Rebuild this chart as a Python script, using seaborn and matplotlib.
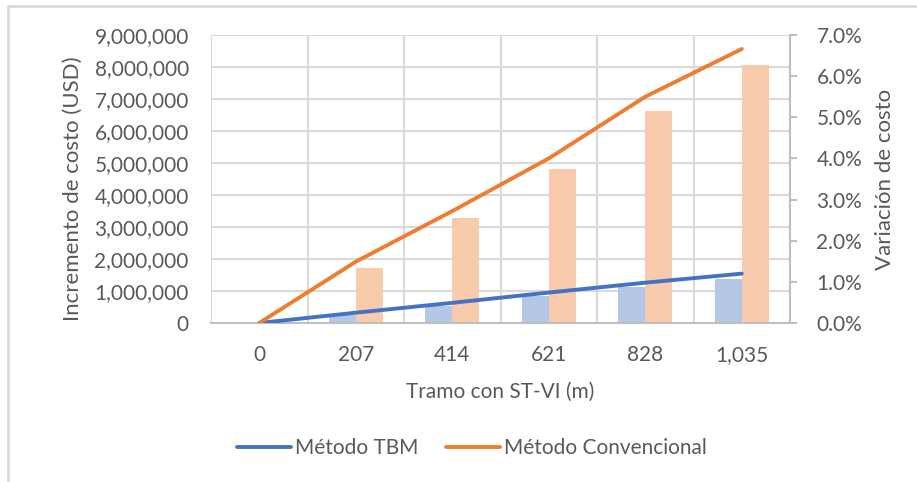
import numpy as np
import pandas as pd
import matplotlib
matplotlib.use("Agg")
import matplotlib.pyplot as plt
from matplotlib.lines import Line2D
from matplotlib.ticker import FuncFormatter
import seaborn as sns

# Data
tramo_labels = ["0", "207", "414", "621", "828", "1,035"]
usd_tbm = [0, 250_000, 540_000, 850_000, 1_120_000, 1_390_000]
usd_conv = [0, 1_730_000, 3_290_000, 4_800_000, 6_630_000, 8_060_000]
pct_tbm = [0.0, 0.25, 0.49, 0.74, 0.98, 1.20]
pct_conv = [0.0, 1.49, 2.72, 4.00, 5.50, 6.66]
series_names = ["Método TBM", "Método Convencional"]

line_colors = ["#4472C4", "#ED7D31"]
bar_colors = ["#B4C7E7", "#F8CBAD"]
text_color = "#595959"
grid_color = "#D9D9D9"

sns.set_theme(style="white")
plt.rcParams["font.family"] = ["Lato", "DejaVu Sans"]
FS = 15

bars = pd.DataFrame({
    "tramo": tramo_labels * 2,
    "usd": usd_tbm + usd_conv,
    "metodo": [series_names[0]] * len(tramo_labels) + [series_names[1]] * len(tramo_labels),
})
lines = pd.DataFrame({
    "pos": list(range(len(tramo_labels))) * 2,
    "pct": pct_tbm + pct_conv,
    "metodo": [series_names[0]] * len(tramo_labels) + [series_names[1]] * len(tramo_labels),
})

fig = plt.figure(figsize=(9.17, 4.82), dpi=100)
ax = fig.add_axes([211 / 917, 1 - 323 / 482, (790 - 211) / 917, (323 - 35) / 482])

sns.barplot(data=bars, x="tramo", y="usd", hue="metodo", order=tramo_labels,
            hue_order=series_names, palette=bar_colors, width=0.56,
            saturation=1, legend=False, ax=ax, zorder=2, linewidth=0)
ax.set_xlim(-0.5, len(tramo_labels) - 0.5)
ax.set_ylim(0, 9_000_000)
ax.set_yticks(np.arange(0, 9_000_001, 1_000_000))
ax.yaxis.set_major_formatter(FuncFormatter(lambda v, p: f"{v:,.0f}"))

# horizontal gridlines on the cost axis, vertical ones between categories
for yv in np.arange(1_000_000, 9_000_001, 1_000_000):
    ax.axhline(yv, color=grid_color, lw=1.5, zorder=0)
for xv in np.arange(-0.5, len(tramo_labels), 1.0):
    ax.axvline(xv, color=grid_color, lw=1.5, zorder=0)

for s in ["top", "right", "left"]:
    ax.spines[s].set_visible(False)
ax.spines["bottom"].set_color("#BFBFBF")
ax.spines["bottom"].set_linewidth(1.5)
ax.spines["bottom"].set_zorder(3)

ax.tick_params(axis="y", length=0, pad=16, labelsize=FS, labelcolor=text_color)
ax.tick_params(axis="x", length=0, pad=16, labelsize=FS, labelcolor=text_color)
ax.set_xlabel("Tramo con ST-VI (m)", fontsize=FS, color=text_color, labelpad=12)
ax.set_ylabel("Incremento de costo (USD)", fontsize=FS + 1, color=text_color)
ax.yaxis.set_label_coords(-0.222, 0.465)

ax2 = ax.twinx()
sns.lineplot(data=lines, x="pos", y="pct", hue="metodo", hue_order=series_names,
             palette=line_colors, linewidth=2.8, legend=False, ax=ax2, zorder=4)
ax2.set_xlim(-0.5, len(tramo_labels) - 0.5)
ax2.set_ylim(0, 7)
ax2.set_yticks(np.arange(0, 7.01, 1))
ax2.yaxis.set_major_formatter(FuncFormatter(lambda v, p: f"{v:.1f}%"))
for s in ["top", "left", "bottom"]:
    ax2.spines[s].set_visible(False)
ax2.spines["right"].set_color("#BFBFBF")
ax2.spines["right"].set_linewidth(1.5)
ax2.tick_params(axis="y", length=5, width=1.5, color="#BFBFBF", pad=14,
                labelsize=FS, labelcolor=text_color)
ax2.set_ylabel("Variación de costo", fontsize=FS + 1, color=text_color)
ax2.yaxis.set_label_coords(1.147, 0.5)
ax2.grid(False)

handles = [Line2D([0], [0], color=c, lw=2.8) for c in line_colors]
fig.legend(handles, series_names, loc="center", bbox_to_anchor=(472 / 917, 1 - 448 / 482),
           ncol=2, frameon=False, fontsize=FS, labelcolor=text_color,
           handlelength=2.6, handletextpad=0.2, columnspacing=1.3)

# chart frame edges
fig.add_artist(Line2D([8 / 917, 1], [1 - 6 / 482, 1 - 6 / 482], color=grid_color, lw=2,
                      transform=fig.transFigure))
fig.add_artist(Line2D([8 / 917, 8 / 917], [0, 1 - 6 / 482], color=grid_color, lw=2,
                      transform=fig.transFigure))

fig.savefig("out.png", dpi=100)
